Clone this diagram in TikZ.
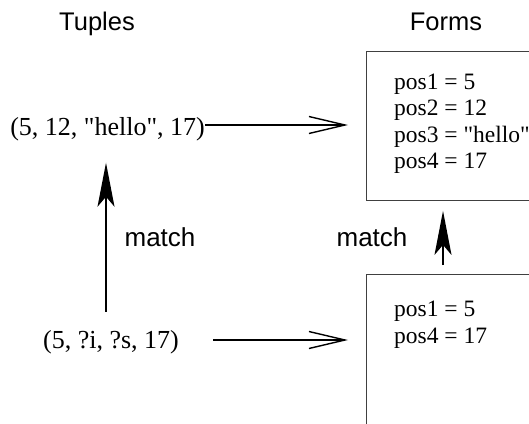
\documentclass[tikz,border=0pt]{standalone}
\usepackage{fontspec}
\setmainfont{Liberation Serif}
\setsansfont{Liberation Sans}
\usetikzlibrary{arrows.meta}

\tikzset{
  heading/.style={font=\sffamily\fontsize{25.5}{30}\selectfont, inner sep=0pt},
  matchlabel/.style={font=\sffamily\fontsize{26}{30}\selectfont, inner sep=0pt},
  tuple/.style={font=\fontsize{26}{30}\selectfont, inner sep=0pt},
  formbox/.style={draw=black!75, line width=0.9pt, minimum width=220pt, anchor=north west, inner sep=0pt},
  formtext/.style={font=\fontsize{23.5}{26.5}\selectfont, align=left, inner sep=0pt, anchor=north west},
  sendarrow/.style={line width=1.4pt, -{Straight Barb[length=36pt, width=17pt, line width=1.4pt]}},
  matcharrow/.style={line width=1.4pt, -{Stealth[length=44pt, width=17pt, inset=10pt]}},
}
\newcommand{\dq}{\textquotedbl}

\begin{document}
\begin{tikzpicture}[x=1pt, y=-1pt]
  \useasboundingbox (0,0) rectangle (529,423);
  \clip (0,0) rectangle (529,423);

  % column headings
  \node[heading, anchor=base] (tuples) at (97,30) {Tuples};
  \node[heading, anchor=base] (forms) at (446,30) {Forms};

  % tuples
  \node[tuple, anchor=base east] (full) at (205,135) {(5, 12, \dq hello\dq, 17)};
  \node[tuple, anchor=base] (pattern) at (111,348) {(5, ?i, ?s, 17)};

  % forms
  \node[formbox, minimum height=149pt] (formfull) at (366,51) {};
  \node[formtext] (fulltext) at (394,73.5) {pos1 = 5\\pos2 = 12\\pos3 = \dq hello\dq\\pos4 = 17};
  \node[formbox, minimum height=170pt] (formpat) at (366,274) {};
  \node[formtext] (pattext) at (394,301) {pos1 = 5\\pos4 = 17};

  % match labels
  \node[matchlabel, anchor=base] (matchleft) at (160,246) {match};
  \node[matchlabel, anchor=base] (matchright) at (372,246) {match};

  % tuple -> form arrows
  \draw[sendarrow] (full.east |- 0,125) -- ([xshift=-18pt]formfull.west |- 0,125);
  \draw[sendarrow] ([xshift=34pt]pattern.east |- 0,340) -- ([xshift=-18pt]formpat.west |- 0,340);

  % match arrows
  \draw[matcharrow] ([yshift=18pt]pattern.north -| 106,0) -- ([yshift=-22pt]full.south -| 106,0);
  \draw[matcharrow] ([yshift=9pt]formpat.north -| 443,0) -- ([yshift=-10pt]formfull.south -| 443,0);
\end{tikzpicture}
\end{document}
